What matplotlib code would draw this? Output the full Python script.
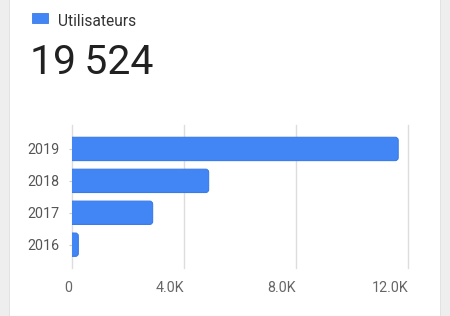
import matplotlib
matplotlib.use("Agg")
import matplotlib.pyplot as plt
from matplotlib.patches import FancyBboxPatch, Rectangle

plt.rcParams['font.family'] = ['Roboto', 'DejaVu Sans']

years = ["2016", "2017", "2018", "2019"]
users = [226, 2880, 4880, 11650]
total_label = "19\u202f524"
legend_label = "Utilisateurs"
xticks = [0, 4000, 8000, 12000]
xtick_labels = ["0", "4.0K", "8.0K", "12.0K"]

W, H = 450, 316
fig = plt.figure(figsize=(W / 100, H / 100), dpi=100)
fig.patch.set_facecolor("white")

# side gray strips of the card layout
fig.patches.append(Rectangle((0, 0), 9 / W, 1, transform=fig.transFigure,
                             facecolor="#eeeeee", edgecolor="none", zorder=0))
fig.patches.append(Rectangle((9 / W, 0), 1 / W, 1, transform=fig.transFigure,
                             facecolor="#e2e2e2", edgecolor="none", zorder=0))
fig.patches.append(Rectangle((440 / W, 0), 10 / W, 1, transform=fig.transFigure,
                             facecolor="#eeeeee", edgecolor="none", zorder=0))
fig.patches.append(Rectangle((440 / W, 0), 1 / W, 1, transform=fig.transFigure,
                             facecolor="#e2e2e2", edgecolor="none", zorder=0))

ax_left, ax_right, ax_top, ax_bot = 72, 408, 125, 268
ax = fig.add_axes([ax_left / W, (H - ax_bot) / H, (ax_right - ax_left) / W, (ax_bot - ax_top) / H])
ax.set_facecolor("none")

blue = "#4285f4"
edge = "#3b7be8"
bar_h = 0.73
px_x = 12000 / (ax_right - ax_left)
px_y = 4.48 / (ax_bot - ax_top)
for i, v in enumerate(users):
    r = 3 * px_x
    p = FancyBboxPatch((-4 * px_x, i - bar_h / 2), v + 4 * px_x, bar_h,
                       boxstyle=f"round,pad=0,rounding_size={r}",
                       mutation_aspect=px_y / px_x,
                       facecolor=blue, edgecolor=edge, linewidth=0.8, zorder=3)
    ax.add_patch(p)

ax.set_xlim(0, 12000)
ax.set_ylim(-0.73, 3.75)
ax.set_xticks(xticks)
ax.set_xticklabels(xtick_labels, ha="right")
ax.set_yticks(range(len(years)))
ax.set_yticklabels(years)
for x in xticks:
    ax.axvline(x, color="#dddddd", linewidth=1, zorder=1, clip_on=False)
for s in ax.spines.values():
    s.set_visible(False)
ax.tick_params(axis="x", length=0, pad=9.5, labelsize=10.3, labelcolor="#666666")
ax.tick_params(axis="y", length=2.5, width=0.8, color="#cccccc", pad=6.5,
               labelsize=10.3, labelcolor="#555555")

# header
fig.patches.append(Rectangle((31.7 / W, 1 - 23.3 / H), 16 / W, 10 / H,
                             transform=fig.transFigure, facecolor=blue,
                             edgecolor=edge, linewidth=0.6))
fig.text(58 / W, 1 - 25.7 / H, legend_label, fontsize=11.2, color="#333333",
         ha="left", va="baseline")
fig.text(30 / W, 1 - 73.5 / H, total_label, fontsize=29.5, color="#212121",
         ha="left", va="baseline")

fig.savefig("out.png", dpi=100, facecolor=fig.get_facecolor())
